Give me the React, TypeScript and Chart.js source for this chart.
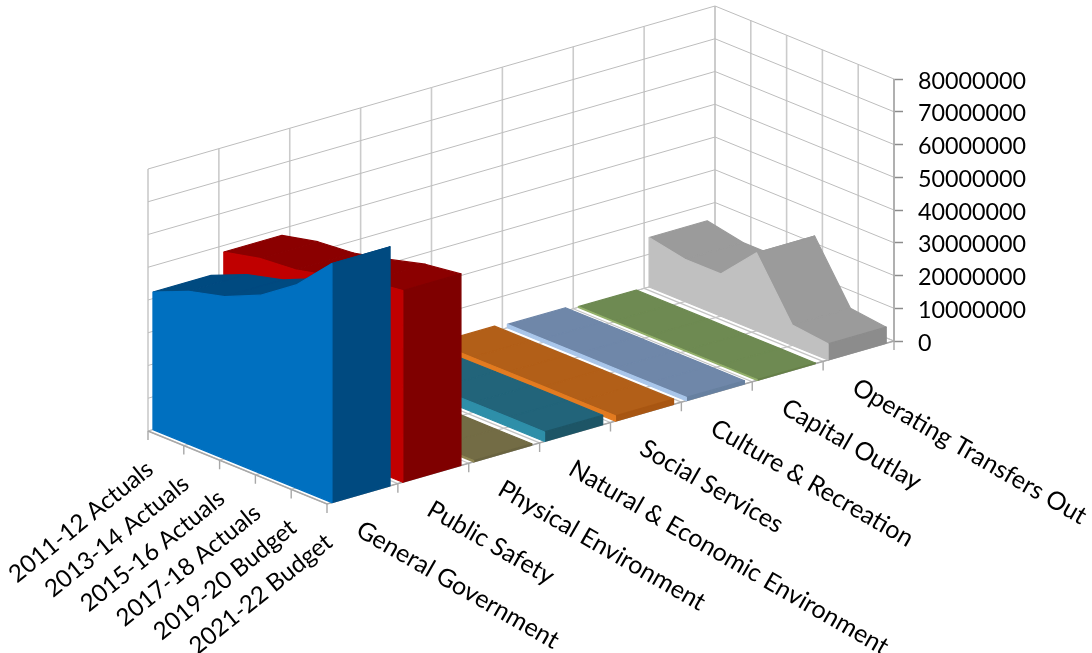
import React, { useEffect, useRef } from "react";
import { Chart, registerables } from "chart.js";

Chart.register(...registerables);

// Fiscal years, drawn from the back of the floor to the front.
const years = ["2011-12 Actuals", "2013-14 Actuals", "2015-16 Actuals", "2017-18 Actuals", "2019-20 Budget", "2021-22 Budget"];

// Spending categories, drawn along the depth axis.
const departments = [
  "General Government",
  "Public Safety",
  "Physical Environment",
  "Natural & Economic Environment",
  "Social Services",
  "Culture & Recreation",
  "Capital Outlay",
  "Operating Transfers Out",
];

const generalGovernment = [42000000, 46700000, 49500000, 54400000, 62000000, 73000000];
const publicSafety = [48000000, 50500000, 51500000, 54000000, 57000000, 58500000];
const physicalEnvironment = [300000, 300000, 400000, 400000, 400000, 400000];
const naturalEconomic = [2700000, 2700000, 2800000, 2900000, 2900000, 2900000];
const socialServices = [1600000, 1600000, 1600000, 1600000, 1600000, 1600000];
const cultureRecreation = [1000000, 1000000, 1000000, 1000000, 1000000, 1000000];
const capitalOutlay = [200000, 200000, 200000, 200000, 200000, 200000];
const operatingTransfers = [15100000, 12900000, 12900000, 23800000, 6200000, 4900000];

const valueTicks = [0, 10000000, 20000000, 30000000, 40000000, 50000000, 60000000, 70000000, 80000000];

const seriesValues = [
  generalGovernment,
  publicSafety,
  physicalEnvironment,
  naturalEconomic,
  socialServices,
  cultureRecreation,
  capitalOutlay,
  operatingTransfers,
];

// Face colours per series: front wall, top surface, end cap.
const frontColors = ["#0070c0", "#c00000", "#8f8755", "#2e8fa9", "#e37b20", "#a9c6ea", "#93b06a", "#c0c0c0"];
const topColors = ["#004a80", "#8b0000", "#736c45", "#22647a", "#b25f18", "#6f87a9", "#6e8a52", "#9b9b9b"];
const endColors = ["#004a80", "#7f0000", "#6a6440", "#1d5566", "#a85612", "#6780a0", "#668048", "#8c8c8c"];

const WIDTH = 1092;
const HEIGHT = 653;
const AXIS_X = 894;
const PX_PER_VALUE = 3.275e-6;
const ZERO_Y = 341;

// Oblique projection of (year index, department position, value) onto the plot scales.
const project = (year: number, dept: number, value: number) => ({
  x: 148 + 35.8 * year + 70.875 * dept,
  y: value + (ZERO_Y - (431 + 14.6 * year - 20.375 * dept)) / PX_PER_VALUE,
});

type Pt = { x: number; y: number };

// The thin same-coloured outline closes the hairline seams between neighbouring facets.
const polygon = (pts: Pt[], color: string) => ({
  data: [...pts, pts[0]],
  showLine: true,
  fill: "shape",
  backgroundColor: color,
  borderColor: color,
  borderWidth: 1.2,
  borderJoinStyle: "round",
  pointRadius: 0,
  tension: 0,
  clip: false,
});

const stroke = (pts: Pt[], color: string, width: number) => ({
  data: pts,
  showLine: true,
  fill: false,
  borderColor: color,
  borderWidth: width,
  pointRadius: 0,
  tension: 0,
  clip: false,
});

function buildDatasets() {
  const out: any[] = [];
  const lastYear = years.length - 1;
  const lastDept = departments.length;
  const top = valueTicks[valueTicks.length - 1];
  const grid = "#c4c4c4";
  const axis = "#a8a8a8";

  // Wall gridlines.
  for (let d = 0; d <= lastDept; d++) out.push(stroke([project(0, d, 0), project(0, d, top)], "#cbcbcb", 1.6));
  for (let y = 0; y <= lastYear; y++) out.push(stroke([project(y, lastDept, 0), project(y, lastDept, top)], "#cbcbcb", 1.6));
  for (const v of valueTicks) {
    out.push(stroke([project(0, 0, v), project(0, lastDept, v), project(lastYear, lastDept, v)], "#bdbdbd", 1));
  }

  // Floor gridlines.
  for (let d = 0; d <= lastDept; d++) out.push(stroke([project(0, d, 0), project(lastYear, d, 0)], grid, 1.2));
  for (let y = 0; y <= lastYear; y++) out.push(stroke([project(y, 0, 0), project(y, lastDept, 0)], grid, 1.2));

  // Axis lines with their outward ticks.
  const tickDrop = -9 / PX_PER_VALUE;
  out.push(stroke([project(0, 0, 0), project(lastYear, 0, 0), project(lastYear, lastDept, 0)], axis, 1.6));
  for (let y = 0; y <= lastYear; y++) out.push(stroke([project(y, 0, 0), project(y, 0, tickDrop)], axis, 1.4));
  for (let d = 1; d <= lastDept; d++) out.push(stroke([project(lastYear, d, 0), project(lastYear, d, tickDrop)], axis, 1.4));
  out.push(stroke([project(lastYear, lastDept, 0), project(lastYear, lastDept, top)], axis, 1.6));

  // Series ribbons, painted from the farthest department to the nearest.
  for (let s = seriesValues.length - 1; s >= 0; s--) {
    const vals = seriesValues[s];
    const near = s + 0.07;
    const far = s + 0.89;
    for (let y = 0; y < lastYear; y++) {
      out.push(polygon([project(y, near, vals[y]), project(y + 1, near, vals[y + 1]), project(y + 1, far, vals[y + 1]), project(y, far, vals[y])], topColors[s]));
    }
    out.push(polygon([project(lastYear, near, 0), project(lastYear, far, 0), project(lastYear, far, vals[lastYear]), project(lastYear, near, vals[lastYear])], endColors[s]));
    const frontEdge = vals.map((v, y) => project(y, near, v));
    out.push(polygon([project(0, near, 0), project(lastYear, near, 0), ...frontEdge.reverse()], frontColors[s]));
  }

  // Earlier datasets sit on top, so the paint list is given a descending order.
  return out.map((d, i) => ({ ...d, order: out.length - i }));
}

const angledLabels = {
  id: "angledLabels",
  afterDraw(chart: any) {
    const { ctx, scales } = chart;
    const px = (p: Pt) => ({ x: scales.x.getPixelForValue(p.x), y: scales.y.getPixelForValue(p.y) });
    ctx.save();
    ctx.fillStyle = "#000";
    ctx.textBaseline = "middle";
    ctx.font = "24.2px Lato";
    years.forEach((label, i) => {
      const p = px(project(i, 0, 0));
      ctx.save();
      ctx.translate(p.x + 2, p.y + 35);
      ctx.rotate((-39 * Math.PI) / 180);
      ctx.textAlign = "right";
      ctx.fillText(label, 0, 0);
      ctx.restore();
    });
    ctx.font = "25px Lato";
    departments.forEach((label, i) => {
      const p = px(project(years.length - 1, i + 0.5, 0));
      ctx.save();
      ctx.translate(p.x - 4, p.y + 34);
      ctx.rotate((30 * Math.PI) / 180);
      ctx.textAlign = "left";
      ctx.fillText(label, 0, 0);
      ctx.restore();
    });
    ctx.restore();
  },
};

export default function App() {
  const ref = useRef<HTMLCanvasElement>(null);

  useEffect(() => {
    const chart = new Chart(ref.current as HTMLCanvasElement, {
      type: "scatter",
      data: { datasets: buildDatasets() as any },
      plugins: [angledLabels],
      options: {
        animation: false,
        responsive: false,
        layout: { padding: 0 },
        plugins: { legend: { display: false }, tooltip: { enabled: false } },
        scales: {
          x: { type: "linear", min: 0, max: AXIS_X, display: false },
          y: {
            type: "linear",
            position: "right",
            min: (ZERO_Y - HEIGHT) / PX_PER_VALUE,
            max: ZERO_Y / PX_PER_VALUE,
            afterFit: (scale: any) => {
              scale.width = WIDTH - AXIS_X;
              scale.paddingTop = 0;
              scale.paddingBottom = 0;
            },
            afterBuildTicks: (scale: any) => {
              scale.ticks = valueTicks.map((value) => ({ value }));
            },
            border: { display: false },
            grid: { drawOnChartArea: false, drawTicks: true, tickLength: 9, tickColor: "#8c8c8c", tickWidth: 1.5 },
            ticks: {
              autoSkip: false,
              maxRotation: 0,
              padding: 15,
              labelOffset: 2,
              color: "#000",
              font: { family: "Lato", size: 23.3 },
              callback: (v: any) => String(v),
            },
          },
        },
      } as any,
    });
    return () => chart.destroy();
  }, []);

  return <canvas ref={ref} width={WIDTH} height={HEIGHT} style={{ position: "fixed", left: 0, top: 0 }} />;
}
